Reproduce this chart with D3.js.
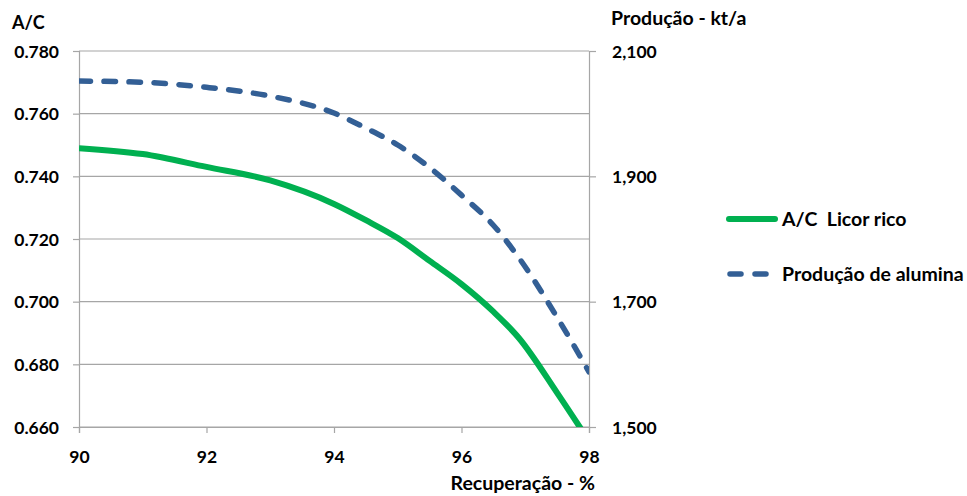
<!DOCTYPE html>
<html>
<head>
<meta charset="utf-8">
<script src="https://cdn.jsdelivr.net/npm/d3@7/dist/d3.min.js"></script>
<style>
  html, body { margin: 0; padding: 0; background: #fff; }
  svg text { font-family: Lato, "Open Sans", sans-serif; font-weight: 700; fill: #000; white-space: pre; }
</style>
</head>
<body>
<svg id="chart" width="967" height="496"></svg>
<script>
// Recovery (%) on the horizontal axis
const recovery = [90, 91, 92, 93, 94, 94.5, 95, 95.5, 96, 96.5, 96.9, 97.5, 98];
// A/C ratio of the rich liquor (left axis)
const acLicorRico = [0.749, 0.7471, 0.7430, 0.7387, 0.7312, 0.7260, 0.7203, 0.7130, 0.7056, 0.6968, 0.6884, 0.6709, 0.6555];
// Alumina production, kt/a (right axis)
const producaoAlumina = [2052, 2050, 2042, 2028, 2001, 1977, 1950, 1914, 1870, 1822, 1770, 1675, 1588];

const xTicks = [90, 92, 94, 96, 98];
const leftTicks = [0.660, 0.680, 0.700, 0.720, 0.740, 0.760, 0.780];
const rightTicks = [1500, 1700, 1900, 2100];

const seriesNames = ["A/C  Licor rico", "Produção de alumina"];
const leftTitle = "A/C";
const rightTitle = "Produção - kt/a";
const xTitle = "Recuperação - %";

const svg = d3.select("#chart");
const m = { left: 79, right: 589, top: 51, bottom: 427 };

const x = d3.scaleLinear().domain([90, 98]).range([m.left, m.right]);
const yL = d3.scaleLinear().domain([0.660, 0.780]).range([m.bottom, m.top]);
const yR = d3.scaleLinear().domain([1500, 2100]).range([m.bottom, m.top]);

const gridColor = "#a6a6a6";

// Horizontal gridlines from the left scale
svg.append("g")
  .selectAll("line")
  .data(leftTicks)
  .join("line")
  .attr("x1", m.left).attr("x2", m.right)
  .attr("y1", d => yL(d)).attr("y2", d => yL(d))
  .attr("stroke", gridColor).attr("stroke-width", 1.2);

// Left axis
const gLeft = svg.append("g")
  .attr("transform", `translate(${m.left},0)`)
  .call(d3.axisLeft(yL).tickValues(leftTicks).tickFormat(d3.format(".3f")).tickSize(6).tickPadding(14));

// Right axis
const gRight = svg.append("g")
  .attr("transform", `translate(${m.right},0)`)
  .call(d3.axisRight(yR).tickValues(rightTicks).tickFormat(d3.format(",")).tickSize(7).tickPadding(16));

// Bottom axis
const gBottom = svg.append("g")
  .attr("transform", `translate(0,${m.bottom})`)
  .call(d3.axisBottom(x).tickValues(xTicks).tickFormat(d3.format("d")).tickSize(6).tickPadding(14));

[gLeft, gRight, gBottom].forEach(g => {
  g.select(".domain").attr("stroke", gridColor).attr("stroke-width", 1.2);
  g.selectAll(".tick line").attr("stroke", gridColor).attr("stroke-width", 1.2);
  g.selectAll(".tick text").attr("font-size", 17.5).attr("font-family", null).attr("fill", "#000");
});
gLeft.selectAll(".tick text").attr("dy", "0.35em");
gRight.selectAll(".tick text").attr("dy", "0.35em");
gBottom.selectAll(".tick text").attr("dy", "0.9em");

// Clip the curves to the plotting area
svg.append("clipPath").attr("id", "plot-clip")
  .append("rect")
  .attr("x", m.left).attr("y", m.top - 10)
  .attr("width", m.right - m.left).attr("height", m.bottom - m.top + 10);

const acLine = d3.line()
  .x((d, i) => x(recovery[i]))
  .y(d => yL(d))
  .curve(d3.curveMonotoneX);

const prodLine = d3.line()
  .x((d, i) => x(recovery[i]))
  .y(d => yR(d))
  .curve(d3.curveMonotoneX);

const green = "#00b050";
const blue = "#335f95";

const plot = svg.append("g").attr("clip-path", "url(#plot-clip)");

plot.append("path")
  .datum(acLicorRico)
  .attr("d", acLine)
  .attr("fill", "none")
  .attr("stroke", green)
  .attr("stroke-width", 6);

plot.append("path")
  .datum(producaoAlumina)
  .attr("d", prodLine)
  .attr("fill", "none")
  .attr("stroke", blue)
  .attr("stroke-width", 5.5)
  .attr("stroke-linecap", "round")
  .attr("stroke-dasharray", "11.5,13.5");

// Axis titles
svg.append("text").attr("x", 12).attr("y", 29).attr("font-size", 18).text(leftTitle);
svg.append("text").attr("x", 611).attr("y", 25).attr("font-size", 19.5).text(rightTitle);
svg.append("text").attr("x", 595).attr("y", 490).attr("font-size", 19.5)
  .attr("text-anchor", "end").text(xTitle);

// Legend
const legend = svg.append("g");
const legendRows = [
  { name: seriesNames[0], color: green, dash: null, y: 219 },
  { name: seriesNames[1], color: blue, dash: "11,14", y: 274 }
];
legendRows.forEach(r => {
  legend.append("line")
    .attr("x1", r.dash ? 730 : 729).attr("x2", r.dash ? 772 : 775)
    .attr("y1", r.y).attr("y2", r.y)
    .attr("stroke", r.color)
    .attr("stroke-width", r.dash ? 5.5 : 6)
    .attr("stroke-linecap", "round")
    .attr("stroke-dasharray", r.dash);
  legend.append("text")
    .attr("x", 782).attr("y", r.y).attr("dy", "0.35em")
    .attr("font-size", 19.5).text(r.name);
});
</script>
</body>
</html>
